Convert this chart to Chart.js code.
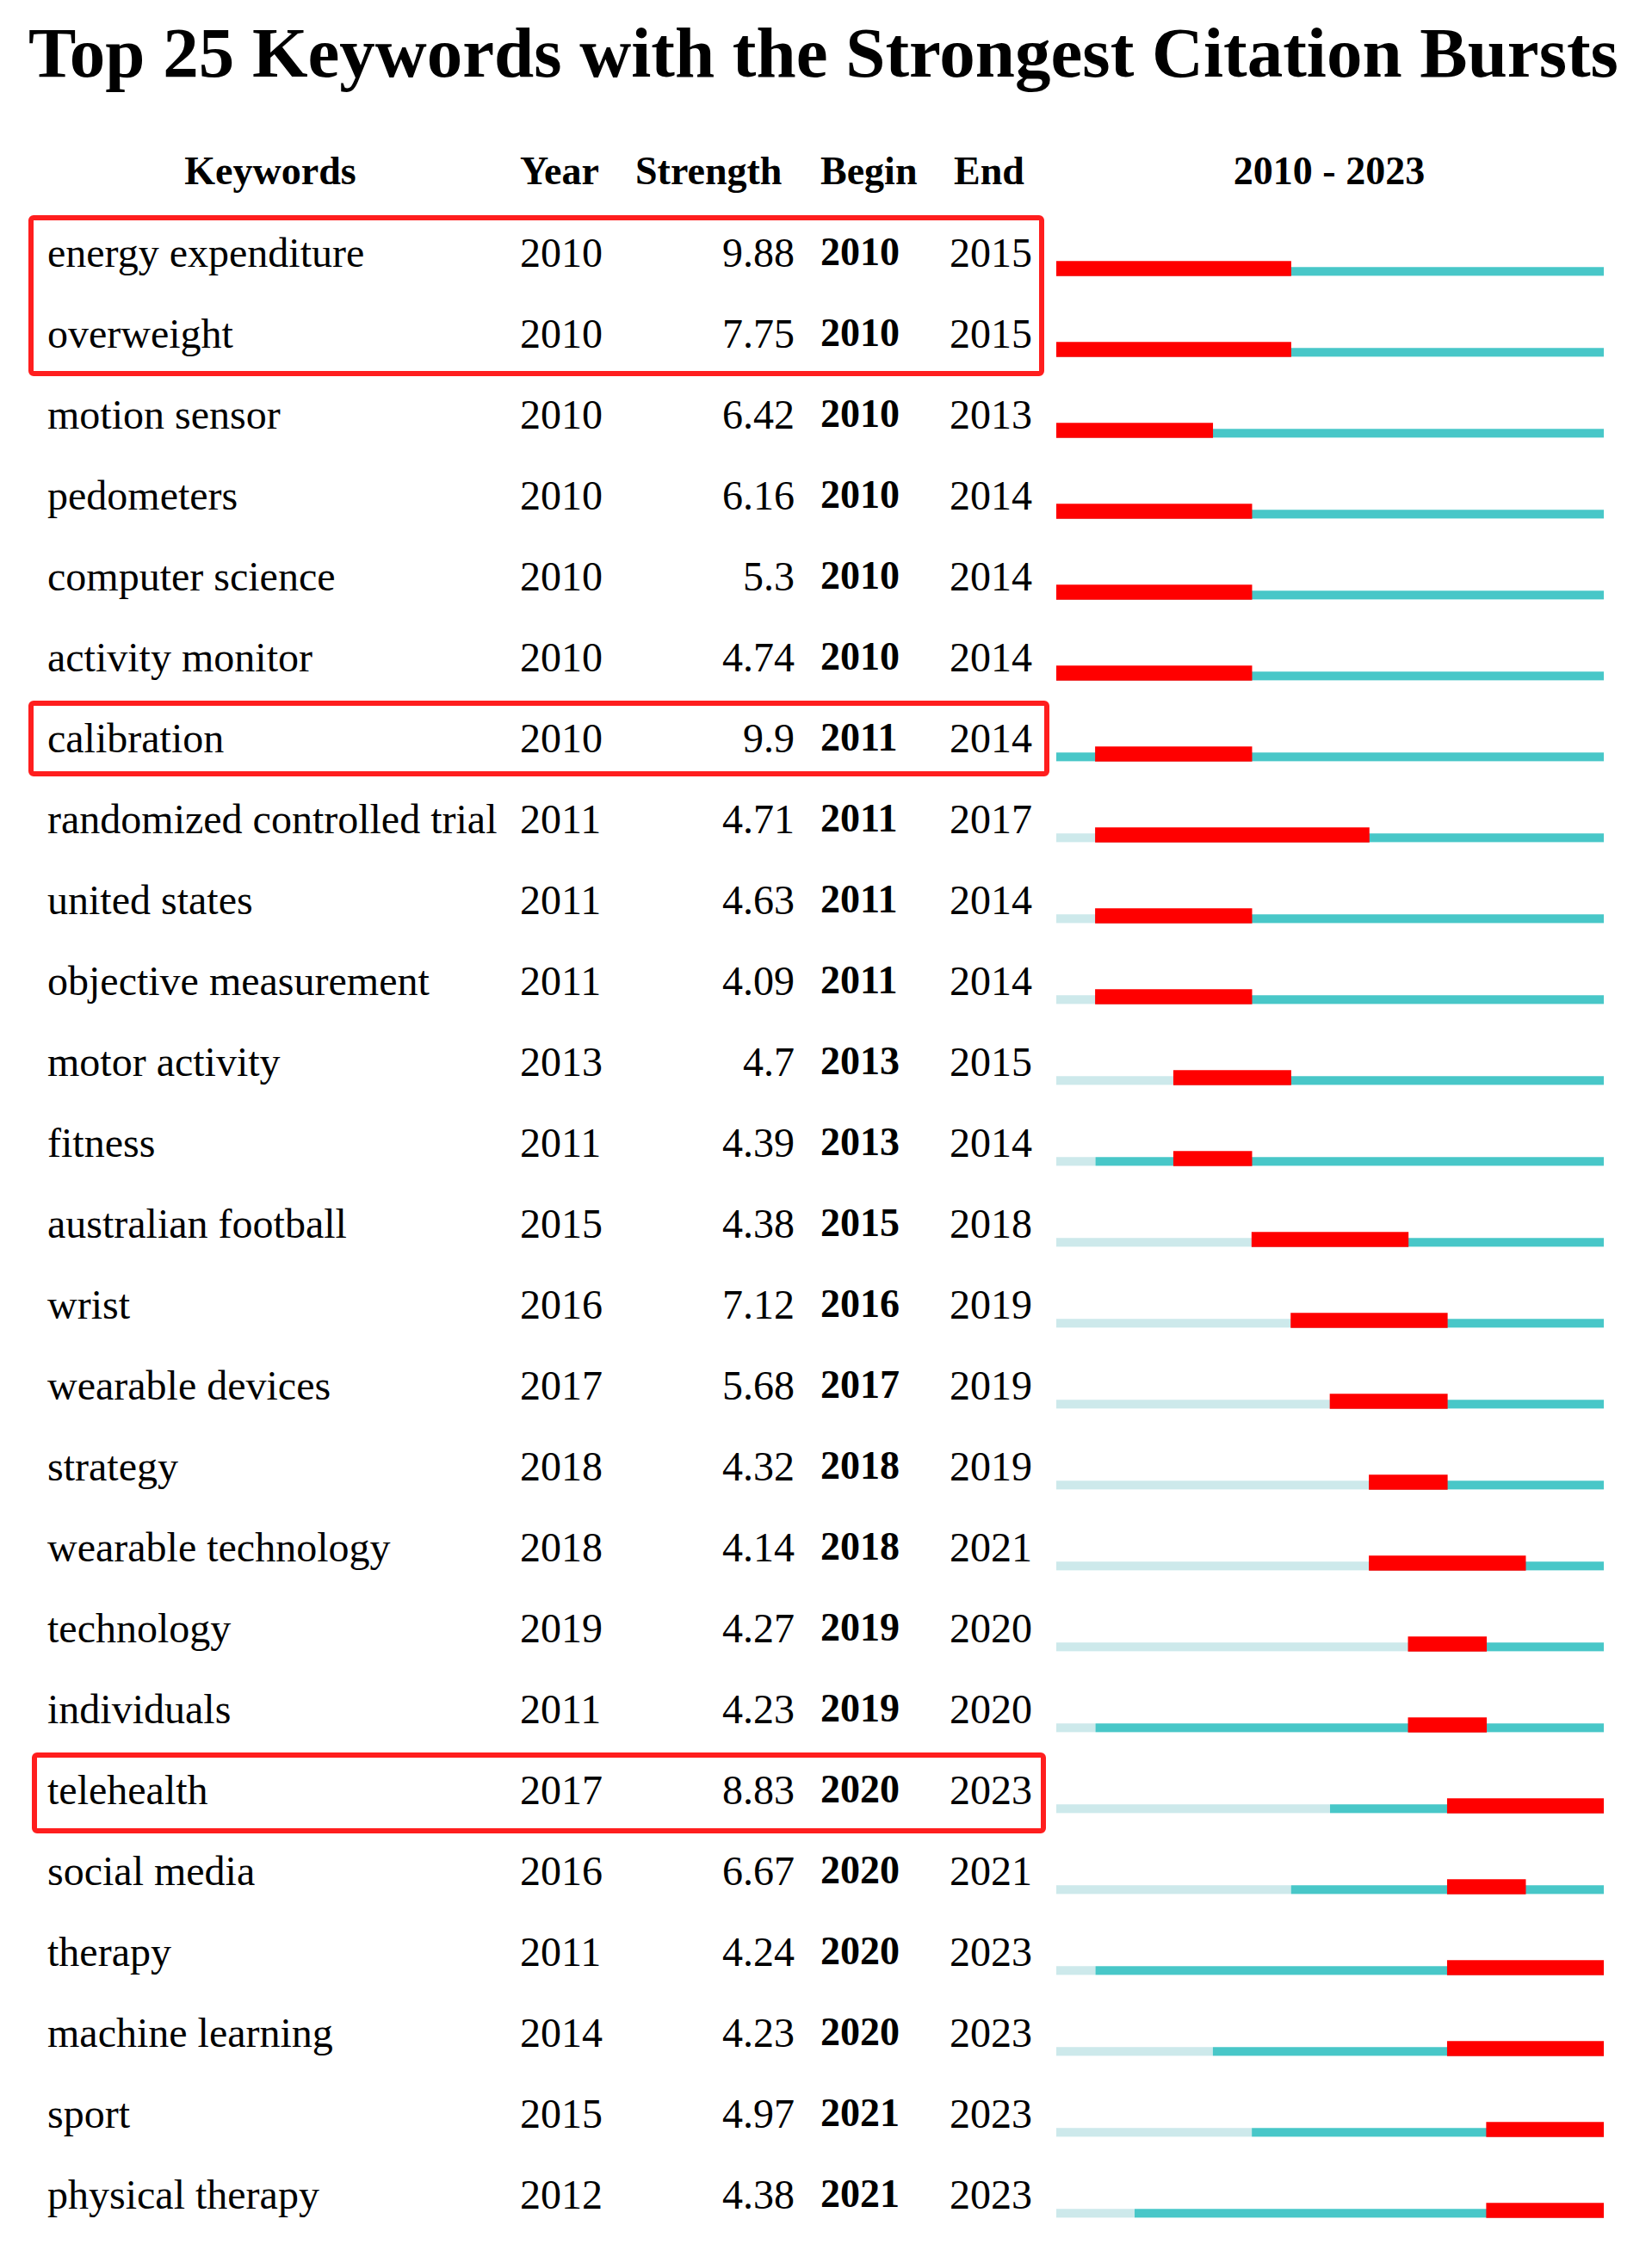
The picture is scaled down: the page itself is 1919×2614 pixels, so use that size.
<!DOCTYPE html>
<html>
<head>
<meta charset="utf-8">
<script src="https://cdn.jsdelivr.net/npm/chart.js@4"></script>
<style>
  body { margin: 0; width: 1919px; height: 2614px; background: #fff; position: relative; overflow: hidden;
         font-family: "Liberation Serif", "Times New Roman", serif; color: #000; }
  .t { position: absolute; font-size: 48px; line-height: 1; white-space: nowrap; }
  .h { font-weight: bold; font-size: 46px; }
  .box { position: absolute; border: 6px solid #ff1e1e; border-radius: 6px; box-sizing: border-box; }
  #wrap { position: absolute; left: 1227px; top: 265px; width: 636px; height: 2350px; }
</style>
</head>
<body>
<div class="t h" style="left:33px;top:20px;font-size:83px;">Top 25 Keywords with the Strongest Citation Bursts</div>
<div id="cells"></div>
<div class="box" style="left:33px;top:250px;width:1180px;height:187px;"></div>
<div class="box" style="left:33px;top:814px;width:1186px;height:88px;"></div>
<div class="box" style="left:37px;top:2036px;width:1178px;height:94px;"></div>
<div id="wrap"><canvas id="myChart"></canvas></div>
<script>
var keywords = ['energy expenditure', 'overweight', 'motion sensor', 'pedometers', 'computer science',
  'activity monitor', 'calibration', 'randomized controlled trial', 'united states', 'objective measurement',
  'motor activity', 'fitness', 'australian football', 'wrist', 'wearable devices', 'strategy',
  'wearable technology', 'technology', 'individuals', 'telehealth', 'social media', 'therapy',
  'machine learning', 'sport', 'physical therapy'];
var years = [2010, 2010, 2010, 2010, 2010, 2010, 2010, 2011, 2011, 2011, 2013, 2011, 2015, 2016, 2017, 2018,
  2018, 2019, 2011, 2017, 2016, 2011, 2014, 2015, 2012];
var strengths = ['9.88', '7.75', '6.42', '6.16', '5.3', '4.74', '9.9', '4.71', '4.63', '4.09', '4.7', '4.39',
  '4.38', '7.12', '5.68', '4.32', '4.14', '4.27', '4.23', '8.83', '6.67', '4.24', '4.23', '4.97', '4.38'];
var begins = [2010, 2010, 2010, 2010, 2010, 2010, 2011, 2011, 2011, 2011, 2013, 2013, 2015, 2016, 2017, 2018,
  2018, 2019, 2019, 2020, 2020, 2020, 2020, 2021, 2021];
var ends = [2015, 2015, 2013, 2014, 2014, 2014, 2014, 2017, 2014, 2014, 2015, 2014, 2018, 2019, 2019, 2019,
  2021, 2020, 2020, 2023, 2021, 2023, 2023, 2023, 2023];
var firstYear = 2010, lastYear = 2023;

// text columns
var cells = document.getElementById('cells');
function addText(txt, x, y, align, bold) {
  var d = document.createElement('div');
  d.className = 't' + (bold ? ' h' : '');
  d.textContent = txt;
  if (align === 'right') d.style.right = (1919 - x) + 'px';
  else if (align === 'center') { d.style.left = (x - 300) + 'px'; d.style.width = '600px'; d.style.textAlign = 'center'; }
  else d.style.left = x + 'px';
  d.style.top = (y - 24) + 'px';
  cells.appendChild(d);
}
addText('Keywords', 314, 200, 'center', true);
addText('Year', 604, 200, 'left', true);
addText('Strength', 738, 200, 'left', true);
addText('Begin', 953, 200, 'left', true);
addText('End', 1108, 200, 'left', true);
addText(firstYear + ' - ' + lastYear, 1544, 200, 'center', true);
keywords.forEach(function (k, i) {
  var y = 294 + 94 * i;
  addText(k, 55, y, 'left');
  addText(String(years[i]), 604, y, 'left');
  addText(strengths[i], 923, y, 'right');
  addText(String(begins[i]), 953, y, 'left', true);
  addText(String(ends[i]), 1103, y, 'left');
});

var ctx = document.getElementById('myChart').getContext('2d');
var chart = new Chart(ctx, {
  type: 'bar',
  data: {
    labels: keywords,
    datasets: [
      {
        data: keywords.map(function (k, i) { return [firstYear, years[i]]; }),
        backgroundColor: '#cde9eb', borderColor: '#ffffff',
        borderWidth: { top: 7, bottom: 0, left: 0, right: 0 }, borderSkipped: false,
        barThickness: 17, grouped: false, order: 2
      },
      {
        data: keywords.map(function (k, i) { return [years[i], lastYear + 1]; }),
        backgroundColor: '#48c7c8', borderColor: '#ffffff',
        borderWidth: { top: 7, bottom: 0, left: 0, right: 0 }, borderSkipped: false,
        barThickness: 17, grouped: false, order: 1
      },
      {
        data: keywords.map(function (k, i) { return [begins[i], ends[i] + 1]; }),
        backgroundColor: '#ff0000', borderWidth: 0,
        barThickness: 17, grouped: false, order: 0
      }
    ]
  },
  options: {
    indexAxis: 'y',
    responsive: true,
    maintainAspectRatio: false,
    animation: false,
    layout: { padding: 0 },
    plugins: { legend: { display: false }, tooltip: { enabled: false } },
    scales: {
      x: { display: false, min: firstYear, max: lastYear + 1 },
      y: { display: false, offset: true }
    }
  }
});
</script>
</body>
</html>
